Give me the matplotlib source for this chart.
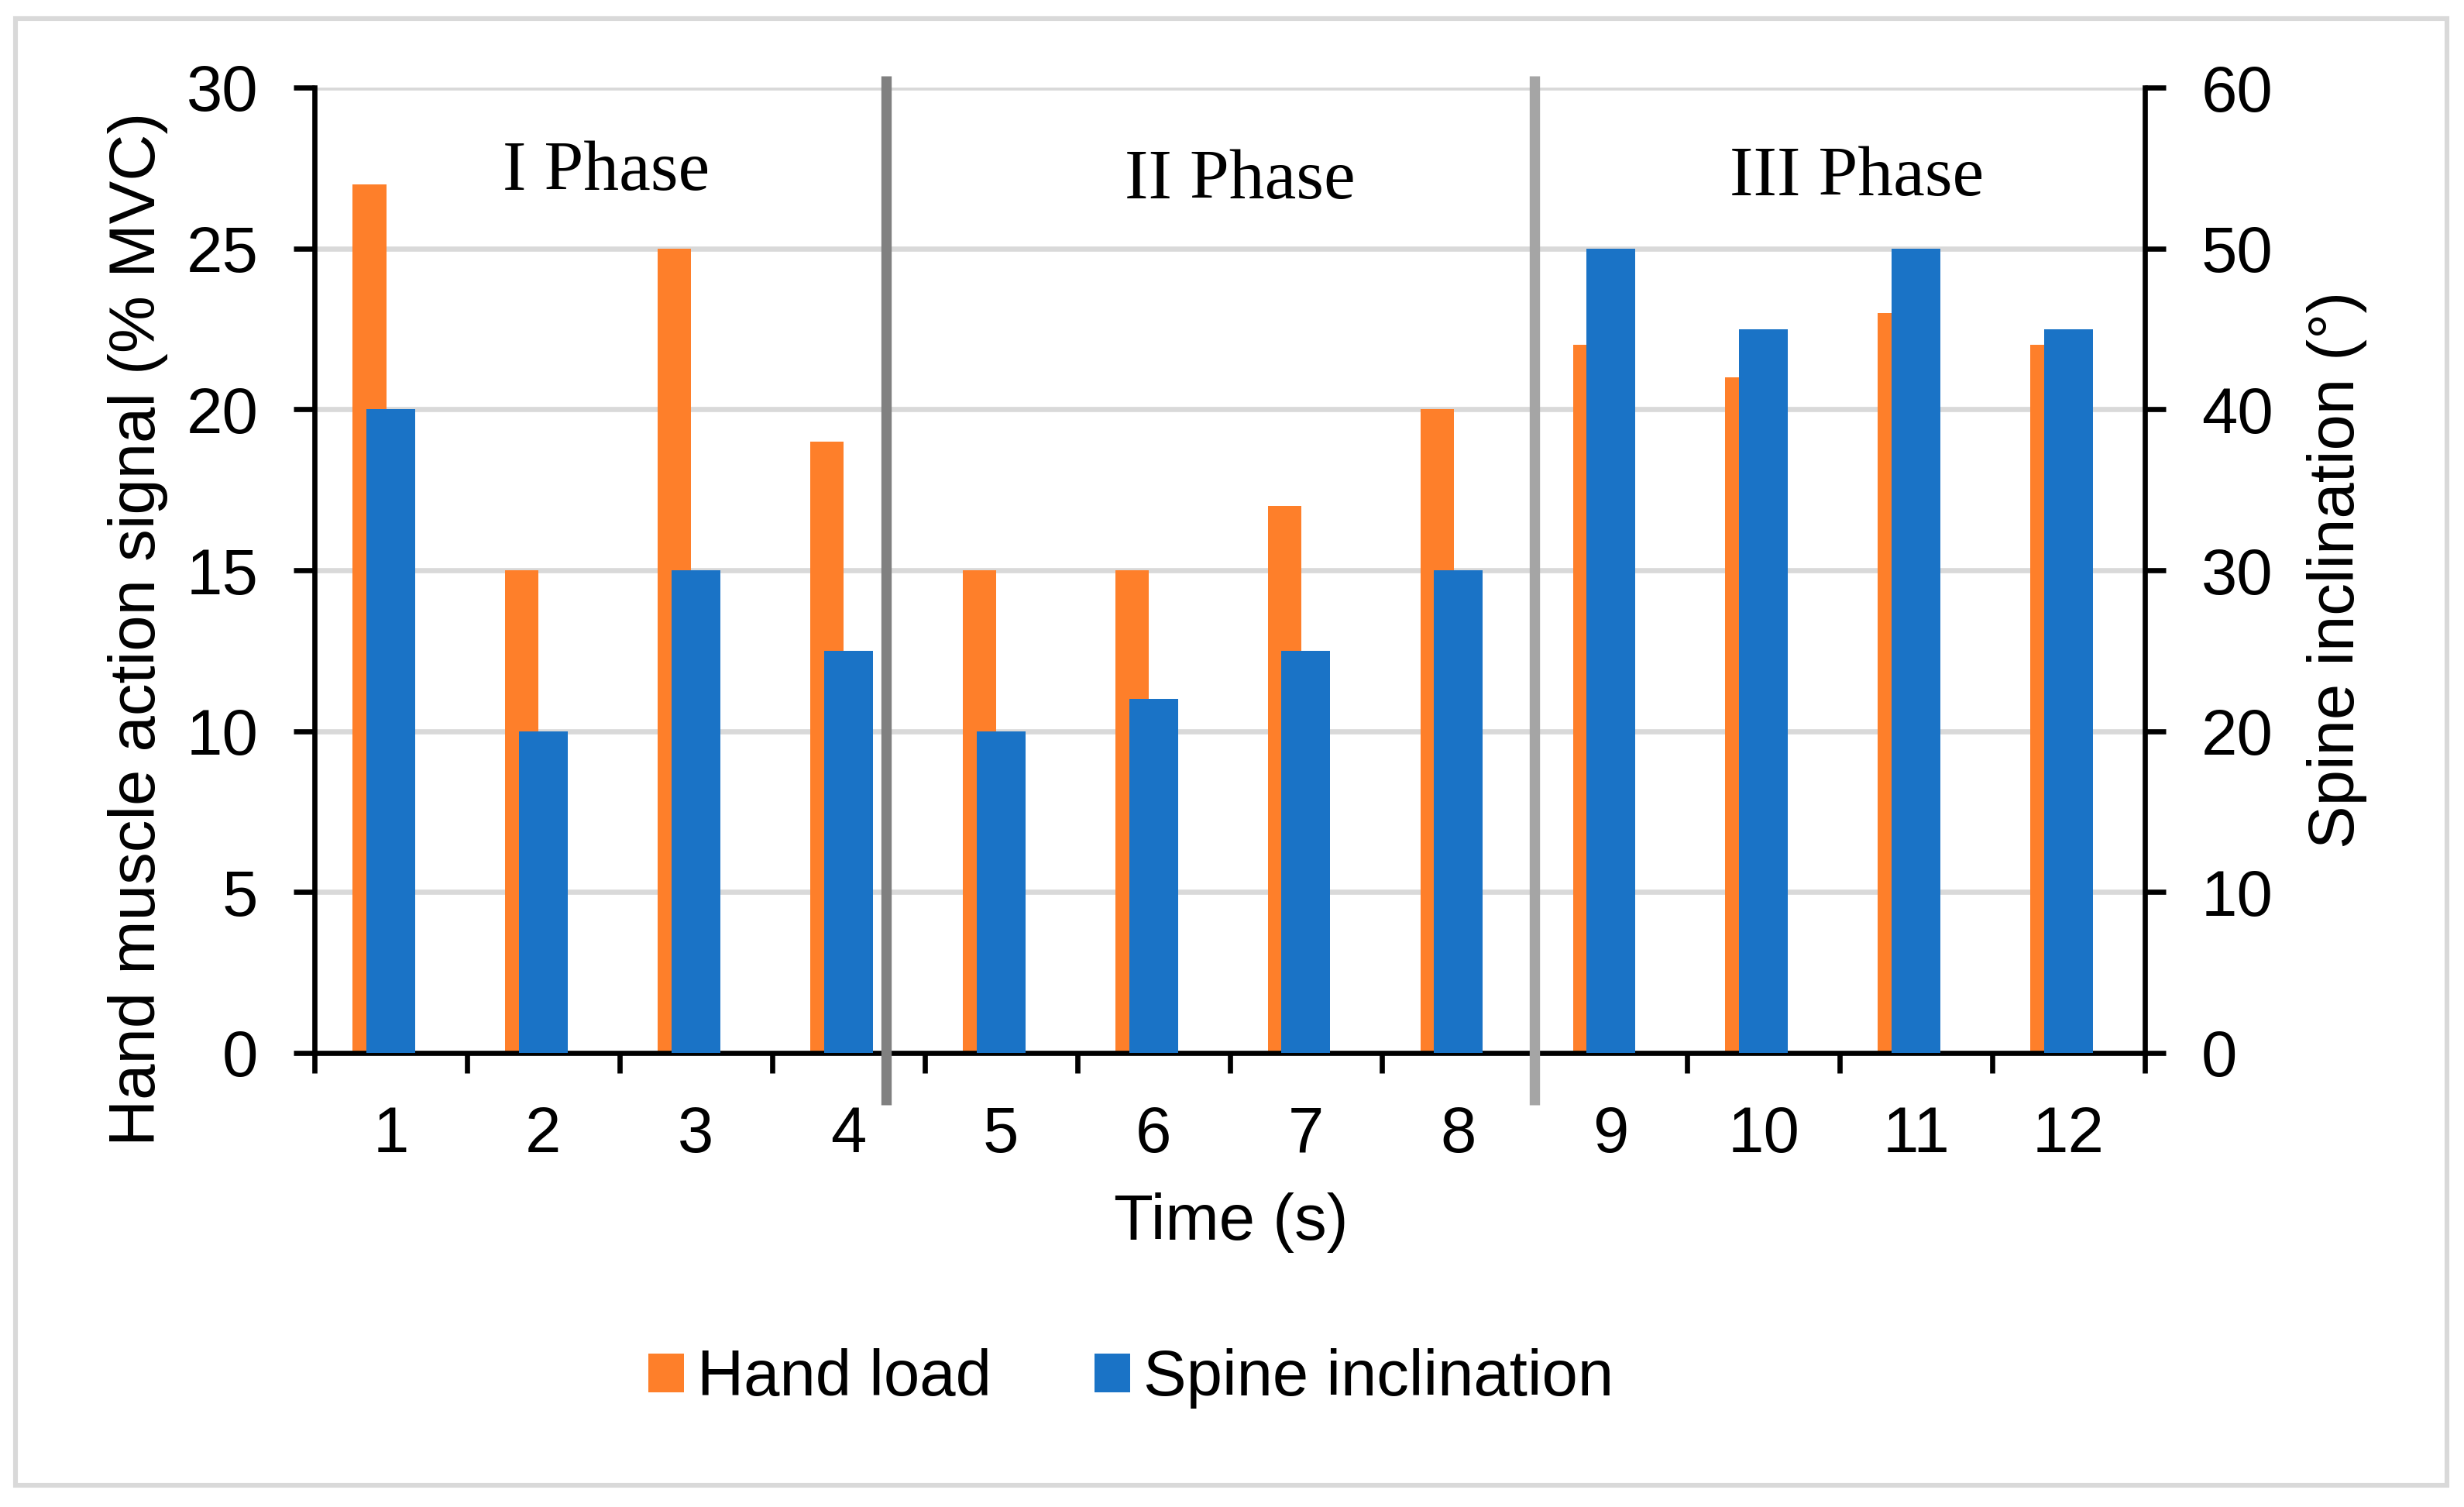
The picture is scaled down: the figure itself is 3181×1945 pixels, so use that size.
import numpy as np
import matplotlib.pyplot as plt
from matplotlib.patches import Rectangle

# data
time_s = [1, 2, 3, 4, 5, 6, 7, 8, 9, 10, 11, 12]
hand_load = [27, 15, 25, 19, 15, 15, 17, 20, 22, 21, 23, 22]        # % MVC, left axis
spine_incl = [40, 20, 30, 25, 20, 22, 25, 30, 50, 45, 50, 45]       # degrees, right axis
left_ticks = [0, 5, 10, 15, 20, 25, 30]
right_ticks = [0, 10, 20, 30, 40, 50, 60]
phase_names = ["I Phase", "II Phase", "III Phase"]

# layout
phase_pos = [(2.41, 27.35), (6.57, 27.1), (10.61, 27.2)]
sep_x = [4.25, 8.5]
sep_col = ["#808080", "#a5a5a5"]
orange = "#fe7f2a"
blue = "#1a73c6"
W, H, DPI = 3181, 1945, 200

plt.rcParams['font.family'] = ['Liberation Sans', 'DejaVu Sans']

fig = plt.figure(figsize=(W / DPI, H / DPI), dpi=DPI)
ax = fig.add_axes([406 / W, 1 - 1359 / H, (2769 - 406) / W, (1359 - 113) / H])

x = np.array(time_s)
b1 = ax.bar(x - 0.14, hand_load, width=0.22, color=orange, label="Hand load", zorder=2)
ax.set_ylim(0, 30)
ax.set_xlim(0.5, 12.5)
ax.set_yticks(left_ticks)
ax.yaxis.grid(True, color="#d9d9d9", lw=2.4)
ax.set_axisbelow(True)

ax2 = ax.twinx()
b2 = ax2.bar(x, spine_incl, width=0.32, color=blue, label="Spine inclination", zorder=2)
ax2.set_ylim(0, 60)
ax2.set_yticks(right_ticks)

for a in (ax, ax2):
    a.spines['top'].set_visible(False)
ax.spines['right'].set_visible(False)
ax2.spines['left'].set_visible(False)
ax2.spines['bottom'].set_visible(False)
for s in ('left', 'bottom'):
    ax.spines[s].set_linewidth(2.4)
ax2.spines['right'].set_linewidth(2.4)

# x ticks: labels at centres, marks at the category boundaries
ax.set_xticks(x)
ax.set_xticks(np.arange(0.5, 13, 1), minor=True)
ax.tick_params(axis='x', which='major', length=0, pad=24, labelsize=30)
ax.tick_params(axis='x', which='minor', length=9.5, width=2.4, direction='out')
ax.tick_params(axis='y', length=9.7, width=2.4, direction='out', pad=16.5, labelsize=30)
ax2.tick_params(axis='y', length=9.7, width=2.4, direction='out', pad=16.5, labelsize=30)

# phase separators and names
for sx, c in zip(sep_x, sep_col):
    ax2.plot([sx, sx], [60.7, -3.24], color=c, lw=4.8, clip_on=False, zorder=5,
             solid_capstyle='butt')
for name, (px, py) in zip(phase_names, phase_pos):
    ax.text(px, py, name, ha='center', va='center', fontsize=33,
            family='Liberation Serif', zorder=6)

fig.text(0.056, 0.5826, "Hand muscle action signal (% MVC)", rotation=90,
         ha='center', va='center', fontsize=30)
fig.text(0.9485, 0.622, "Spine inclination (°)", rotation=90,
         ha='center', va='center', fontsize=30)
fig.text(0.4995, 0.1887, "Time (s)", ha='center', va='center', fontsize=30)

fig.legend([b1, b2], ["Hand load", "Spine inclination"], loc='center',
           bbox_to_anchor=(0.459, 0.0853), ncol=2, frameon=False, fontsize=30,
           handlelength=0.55, handleheight=0.55, handletextpad=0.2, columnspacing=1.6)

# light grey frame round the whole chart
fig.patches.append(Rectangle((20 / W, 1 - 1917 / H), (3159 - 20) / W, (1917 - 24) / H,
                             transform=fig.transFigure, fill=False,
                             edgecolor="#d9d9d9", lw=2.2))

fig.savefig("out.png", dpi=DPI)
